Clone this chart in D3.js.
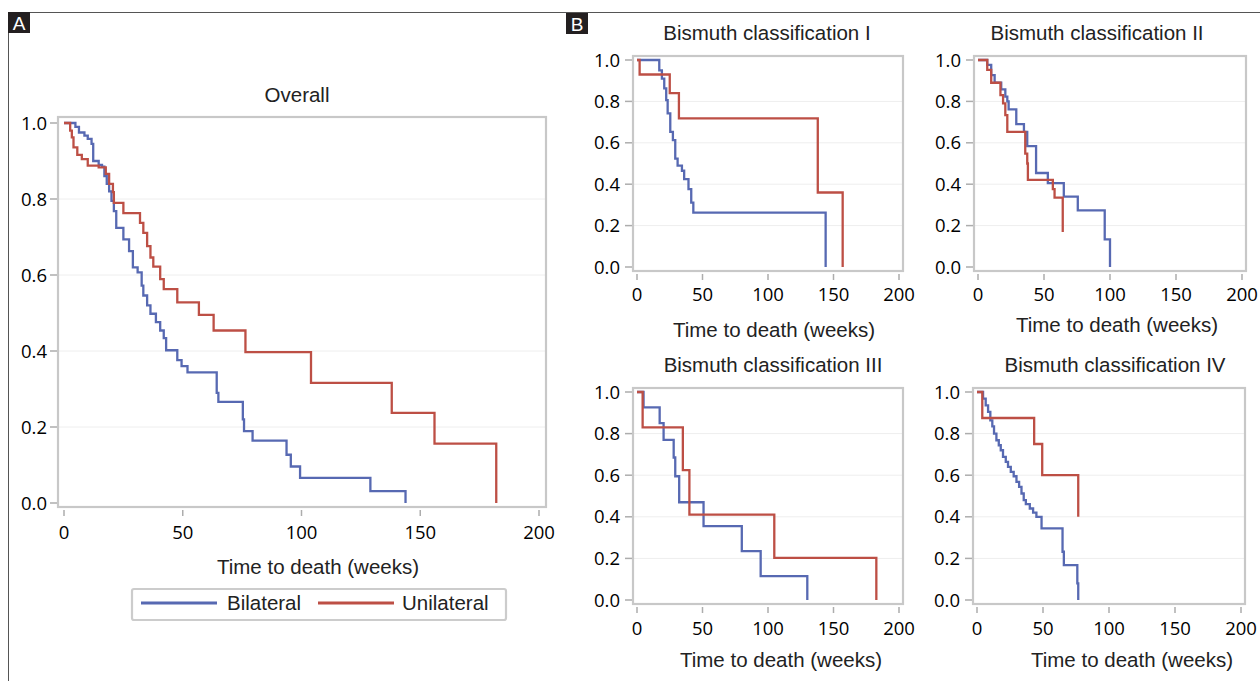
<!DOCTYPE html>
<html lang="en">
<head>
  <meta charset="UTF-8">
  <title>Time to death by stent type</title>
  <script src="https://d3js.org/d3.v7.min.js"></script>
  <style>
    body { margin: 0; background: #fff; }
    .title, .axis-label, .legend-text { font-family: "Liberation Sans", Arial, sans-serif; fill: #222; }
    .tick-label { font-family: "Open Sans", sans-serif; fill: #000; }
    .frame { fill: none; stroke: #c8c8c8; stroke-width: 2.2px; }
    .grid { stroke: #eeeeee; stroke-width: 1px; }
    .tick { stroke: #adadad; stroke-width: 1.5px; }
    .km { fill: none; stroke-width: 2.3px; }
  </style>
</head>
<body>
<svg id="chart" width="1260" height="681"></svg>
<script>
  // [week, survival after the step]
  const overallBilateral = [[0,1],[4.8,0.99],[6.3,0.975],[8.6,0.967],[10,0.958],[11.6,0.945],[12.3,0.9],[14.6,0.89],[16,0.885],[17,0.86],[18,0.84],[19,0.82],[20,0.795],[21,0.768],[22,0.724],[25,0.694],[27.4,0.663],[29,0.62],[31,0.607],[32.7,0.572],[33.4,0.546],[35,0.52],[36.4,0.498],[38.7,0.476],[40.5,0.454],[42,0.434],[43,0.402],[47.7,0.376],[49.5,0.36],[52,0.344],[64.3,0.29],[65,0.266],[75.3,0.22],[75.8,0.189],[79.4,0.164],[93.7,0.127],[95.5,0.096],[99.4,0.066],[129,0.031],[143.8,0]];
  const overallUnilateral = [[0,1],[2.6,0.98],[3.3,0.962],[4,0.936],[5.6,0.916],[7.5,0.905],[10,0.888],[14.6,0.883],[17.6,0.866],[19,0.84],[20.6,0.818],[21,0.79],[25,0.763],[32,0.737],[33.4,0.711],[35,0.676],[36.4,0.646],[37.6,0.622],[40.5,0.589],[42,0.563],[47.7,0.528],[56.8,0.495],[63,0.454],[76.4,0.397],[104,0.316],[138,0.237],[156,0.156],[182,0]];

  const bis1Bilateral = [[0,1],[17,0.95],[19,0.91],[20.8,0.863],[22.3,0.806],[23.4,0.742],[25.4,0.653],[27.4,0.613],[29.2,0.524],[31,0.49],[34.3,0.465],[36,0.425],[39.3,0.376],[41.4,0.311],[43,0.263],[144,0]];
  const bis1Unilateral = [[0,1],[2,0.93],[25,0.84],[32,0.718],[138,0.36],[157,0]];

  const bis2Bilateral = [[0,1],[7,0.976],[10,0.927],[12.6,0.89],[17.6,0.858],[20.7,0.823],[22.2,0.8],[23.2,0.761],[29,0.69],[34.8,0.653],[37.3,0.584],[44,0.454],[52.9,0.405],[65,0.34],[75.6,0.274],[96,0.133],[100,0]];
  const bis2Unilateral = [[0,1],[7,0.952],[10,0.89],[17,0.83],[19,0.79],[20.7,0.734],[22.2,0.653],[35.8,0.548],[37.3,0.5],[37.8,0.421],[56.7,0.376],[58,0.335],[64.2,0.169]];

  const bis3Bilateral = [[0,1],[5,0.926],[17.3,0.85],[20.3,0.77],[28,0.685],[29.2,0.595],[32.2,0.47],[50.8,0.355],[80,0.235],[94.4,0.115],[130,0]];
  const bis3Unilateral = [[0,1],[4.3,0.83],[35,0.624],[40,0.41],[104.8,0.203],[182.7,0]];

  const bis4Bilateral = [[0,1],[4.6,0.968],[6.6,0.936],[8.4,0.904],[10.1,0.864],[11.6,0.835],[12.9,0.8],[14.7,0.768],[16.5,0.744],[18,0.72],[19.7,0.688],[21.8,0.664],[23.5,0.64],[25.6,0.616],[27.8,0.595],[29.9,0.568],[31.9,0.544],[33.7,0.512],[35.4,0.48],[37,0.461],[40,0.44],[42.5,0.42],[45,0.4],[48.9,0.344],[64.8,0.232],[65.8,0.168],[76,0.08],[76.7,0]];
  const bis4Unilateral = [[0,1],[4,0.875],[43.3,0.75],[49.4,0.6],[76.7,0.4]];

  const panelTitles = ["Overall", "Bismuth classification I", "Bismuth classification II", "Bismuth classification III", "Bismuth classification IV"];
  const groups = ["Bilateral", "Unilateral"];
  const xTicks = [0, 50, 100, 150, 200];
  const yTicks = [0, 0.2, 0.4, 0.6, 0.8, 1.0];
  const xLabel = "Time to death (weeks)";

  const colors = { Bilateral: "#5769b2", Unilateral: "#bd4f45" };
  const svg = d3.select("#chart");

  // outer figure border + panel letters
  svg.append("line").attr("x1", 8).attr("x2", 1260).attr("y1", 12.5).attr("y2", 12.5)
     .attr("stroke", "#555").attr("stroke-width", 1);
  svg.append("line").attr("x1", 8.5).attr("x2", 8.5).attr("y1", 12).attr("y2", 681)
     .attr("stroke", "#555").attr("stroke-width", 1);
  [["A", 8, 12], ["B", 566, 13]].forEach(([t, x, y]) => {
    svg.append("rect").attr("x", x).attr("y", y).attr("width", 22).attr("height", 21).attr("fill", "#231f20");
    svg.append("text").attr("x", x + 11).attr("y", y + 18).attr("text-anchor", "middle")
       .attr("fill", "#fff").style("font-family", "Liberation Sans, Arial, sans-serif")
       .style("font-size", "19px").text(t);
  });

  const panels = [
    { title: panelTitles[0], xr: [64, 539], yr: [503, 123], pad: [6, 7, 6, 4], titlePos: [297, 95], labelPos: [318, 567], lab: 25, ylab: 11, series: [overallBilateral, overallUnilateral] },
    { title: panelTitles[1], xr: [637, 899], yr: [267, 60], pad: [4, 4, 4, 4], titlePos: [767, 33], labelPos: [774, 330], lab: 23, ylab: 13, series: [bis1Bilateral, bis1Unilateral] },
    { title: panelTitles[2], xr: [978, 1242], yr: [267, 60], pad: [4, 4, 4, 4], titlePos: [1097, 33], labelPos: [1117, 325], lab: 23, ylab: 13, series: [bis2Bilateral, bis2Unilateral] },
    { title: panelTitles[3], xr: [637, 899], yr: [600, 392], pad: [4, 4, 4, 4], titlePos: [773, 365], labelPos: [781, 660], lab: 24, ylab: 13, series: [bis3Bilateral, bis3Unilateral] },
    { title: panelTitles[4], xr: [977, 1241], yr: [600, 392], pad: [4, 4, 4, 4], titlePos: [1115, 365], labelPos: [1132, 660], lab: 24, ylab: 13, series: [bis4Bilateral, bis4Unilateral] }
  ];

  panels.forEach(drawPanel);

  function drawPanel(p) {
    const x = d3.scaleLinear().domain([0, 200]).range(p.xr);
    const y = d3.scaleLinear().domain([0, 1]).range(p.yr);
    const left = p.xr[0] - p.pad[0], right = p.xr[1] + p.pad[1];
    const top = p.yr[1] - p.pad[2], bottom = p.yr[0] + p.pad[3];
    const g = svg.append("g");

    // gridlines
    g.selectAll("line.grid").data(yTicks.filter(d => d > 0 && d < 1)).join("line")
      .attr("class", "grid").attr("x1", left + 1).attr("x2", right - 1)
      .attr("y1", d => y(d)).attr("y2", d => y(d));

    // curves
    const line = d3.line().x(d => x(d[0])).y(d => y(d[1])).curve(d3.curveStepAfter);
    p.series.forEach((s, i) => {
      g.append("path").datum(s).attr("class", "km")
        .attr("stroke", colors[groups[i]]).attr("d", line);
    });

    g.append("rect").attr("class", "frame")
      .attr("x", left).attr("y", top).attr("width", right - left).attr("height", bottom - top);

    // y ticks
    g.selectAll("line.yt").data(yTicks).join("line").attr("class", "tick")
      .attr("x1", left - 8).attr("x2", left - 1).attr("y1", d => y(d)).attr("y2", d => y(d));
    g.selectAll("text.yl").data(yTicks).join("text").attr("class", "tick-label")
      .attr("x", left - p.ylab).attr("y", d => y(d) + 6.5).attr("text-anchor", "end")
      .style("font-size", "18.5px").text(d => d3.format(".1f")(d));

    // x ticks
    g.selectAll("line.xt").data(xTicks).join("line").attr("class", "tick")
      .attr("x1", d => x(d)).attr("x2", d => x(d)).attr("y1", bottom + 3).attr("y2", bottom + 9);
    g.selectAll("text.xl").data(xTicks).join("text").attr("class", "tick-label")
      .attr("x", d => x(d)).attr("y", bottom + p.lab + 6.5).attr("text-anchor", "middle")
      .style("font-size", "18.5px").text(d => d);

    g.append("text").attr("class", "title").attr("x", p.titlePos[0]).attr("y", p.titlePos[1] + 7)
      .attr("text-anchor", "middle").style("font-size", "20.5px").text(p.title);
    g.append("text").attr("class", "axis-label").attr("x", p.labelPos[0]).attr("y", p.labelPos[1] + 7)
      .attr("text-anchor", "middle").style("font-size", "20.5px").text(xLabel);
  }

  // legend under panel A
  const legend = svg.append("g");
  legend.append("rect").attr("x", 132).attr("y", 589).attr("width", 374).attr("height", 31)
    .attr("rx", 2).attr("fill", "#fff").attr("stroke", "#cccccc").attr("stroke-width", 2.2);
  const legendX = [[141, 227], [318, 402]];
  groups.forEach((grp, i) => {
    legend.append("line").attr("x1", legendX[i][0]).attr("x2", legendX[i][0] + 76)
      .attr("y1", 603).attr("y2", 603).attr("stroke", colors[grp]).attr("stroke-width", 3);
    legend.append("text").attr("class", "legend-text").attr("x", legendX[i][1]).attr("y", 610)
      .style("font-size", "20.5px").text(grp);
  });
</script>
</body>
</html>
